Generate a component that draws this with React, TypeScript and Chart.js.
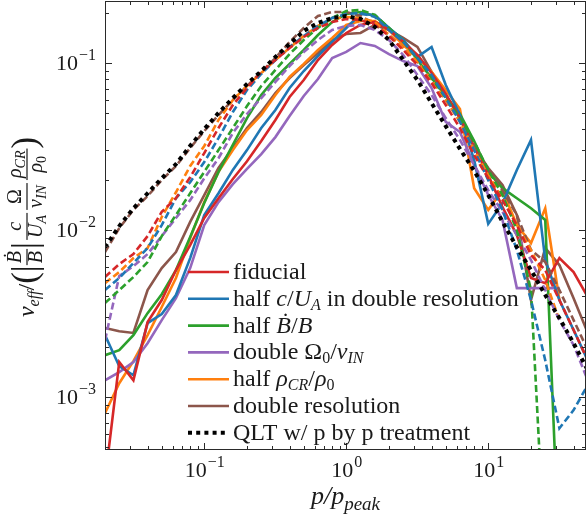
import React, { useEffect, useRef } from "react";
import { Chart, registerables } from "chart.js";

Chart.register(...registerables);

// ---------------- data ----------------
const P = [0.02, 0.0252, 0.0317, 0.0399, 0.0502, 0.0632, 0.0796, 0.1, 0.126, 0.159, 0.2, 0.252, 0.317, 0.399, 0.502, 0.632, 0.796, 1.0, 1.26, 1.59, 2.0, 2.52, 3.17, 3.99, 5.02, 6.32, 7.96, 10.0, 12.6, 15.9, 20.0, 25.2, 31.7, 39.9, 50.2];

const FID_S = [0.000318, 0.00162, 0.00126, 0.00281, 0.00381, 0.00576, 0.00813, 0.0118, 0.0155, 0.0202, 0.0258, 0.0341, 0.0456, 0.0626, 0.0791, 0.1042, 0.1282, 0.1512, 0.1689, 0.176, 0.1576, 0.1336, 0.1117, 0.0871, 0.0652, 0.0468, 0.0314, 0.0213, 0.0137, 0.00933, 0.00516, 0.00481, 0.00679, 0.0056, 0.00397];
const FID_D = [0.00523, 0.00625, 0.00718, 0.0092, 0.01284, 0.0155, 0.0207, 0.0289, 0.0408, 0.056, 0.0708, 0.0884, 0.1042, 0.123, 0.1431, 0.162, 0.176, 0.1834, 0.1809, 0.1689, 0.1451, 0.1196, 0.0973, 0.0759, 0.056, 0.0408, 0.0281, 0.0204, 0.0151, 0.0107, 0.00708, 0.00576, 0.00381, 0.00252, 0.00166];

const HALFC_S = [0.00235, 0.00153, 0.00135, 0.00277, 0.00314, 0.00408, 0.00679, 0.0123, 0.0166, 0.0229, 0.0301, 0.0408, 0.0523, 0.0708, 0.0895, 0.1101, 0.1336, 0.162, 0.1965, 0.1938, 0.162, 0.1373, 0.1087, 0.1247, 0.0738, 0.0488, 0.0262, 0.01088, 0.0145, 0.0229, 0.0346, 0.00661, 0.00381, 0.00252, 0.00166];
const HALFC_D = [0.00437, 0.00516, 0.00634, 0.0078, 0.0107, 0.0155, 0.01936, 0.0255, 0.0355, 0.0509, 0.0689, 0.0859, 0.1042, 0.1247, 0.1451, 0.1666, 0.186, 0.1965, 0.1992, 0.1886, 0.1576, 0.1336, 0.1071, 0.0848, 0.0617, 0.0444, 0.0301, 0.0199, 0.0132, 0.00759, 0.00381, 0.00166, 0.000651, 0.000835, 0.00118];

const HALFB_S = [0.00178, 0.00191, 0.00235, 0.00318, 0.00413, 0.00576, 0.00908, 0.0145, 0.0223, 0.0323, 0.0468, 0.0643, 0.0813, 0.0986, 0.1196, 0.1471, 0.176, 0.1965, 0.202, 0.1912, 0.162, 0.1373, 0.1042, 0.0813, 0.0634, 0.0495, 0.0341, 0.0223, 0.0178, 0.0155, 0.0135, 0.0115, 0.0001, null, null];
const HALFB_D = [0.00365, 0.00437, 0.00523, 0.00643, 0.0092, 0.0123, 0.0166, 0.0223, 0.0301, 0.0408, 0.0552, 0.0728, 0.0908, 0.1131, 0.1373, 0.162, 0.186, 0.2048, 0.2076, 0.1938, 0.162, 0.1336, 0.1071, 0.0813, 0.0617, 0.0468, 0.0337, 0.0229, 0.0162, 0.01, 0.00437, 0.0001, null, null, null];

const DOUBLEO_S = [0.00126, 0.00141, 0.00162, 0.0021, 0.00289, 0.00391, 0.00592, 0.0107, 0.0147, 0.0188, 0.0232, 0.0285, 0.036, 0.0481, 0.0634, 0.0802, 0.1071, 0.1164, 0.1317, 0.1264, 0.1131, 0.1027, 0.0959, 0.0708, 0.0444, 0.0386, 0.0245, 0.0162, 0.0115, 0.00449, 0.00449, 0.00449, 0.00449, null, null];
const DOUBLEO_D = [0.00219, 0.0053, 0.00608, 0.00718, 0.0092, 0.0118, 0.0151, 0.0204, 0.0269, 0.0381, 0.0495, 0.0617, 0.077, 0.0959, 0.1164, 0.1373, 0.1576, 0.1666, 0.1689, 0.1576, 0.1373, 0.1117, 0.0848, 0.0643, 0.0468, 0.0346, 0.0245, 0.0173, 0.01284, 0.00933, 0.00661, 0.00437, 0.00289, 0.00205, 0.00126];

const HALFRHO_S = [0.000801, 0.00121, 0.00164, 0.00235, 0.00346, 0.00516, 0.00895, 0.0147, 0.0223, 0.0301, 0.0397, 0.0488, 0.0643, 0.0825, 0.0986, 0.1196, 0.1412, 0.1689, 0.1784, 0.1784, 0.1576, 0.1282, 0.1087, 0.0884, 0.0689, 0.053, 0.0178, 0.0132, 0.0173, 0.0107, 0.00835, 0.0135, 0.00381, null, null];
const HALFRHO_D = [0.00481, 0.0056, 0.00679, 0.0078, 0.01197, 0.01683, 0.02416, 0.03185, 0.0456, 0.06, 0.0728, 0.0871, 0.1042, 0.123, 0.1451, 0.1666, 0.1834, 0.1886, 0.186, 0.176, 0.1471, 0.123, 0.1014, 0.0791, 0.06, 0.0444, 0.0301, 0.0213, 0.0155, 0.0107, 0.00759, 0.00502, 0.00289, null, null];

const DOUBLERES_S = [0.00259, 0.00248, 0.00242, 0.00437, 0.00592, 0.00738, 0.01119, 0.0162, 0.0235, 0.031, 0.0408, 0.0509, 0.0661, 0.0813, 0.0973, 0.1147, 0.1373, 0.1492, 0.1512, 0.1689, 0.1576, 0.1412, 0.1247, 0.0884, 0.0643, 0.0468, 0.0314, 0.0235, 0.0186, 0.0123, 0.00381, 0.0078, 0.00617, 0.00391, 0.00242];
const DOUBLERES_D = [0.00738, 0.01026, 0.0132, 0.01597, 0.0199, 0.02416, 0.031, 0.0391, 0.0488, 0.06, 0.0728, 0.0884, 0.1071, 0.1336, 0.162, 0.1912, 0.202, 0.202, 0.1912, 0.1712, 0.1471, 0.123, 0.1014, 0.0791, 0.06, 0.0456, 0.0323, 0.0229, 0.0173, 0.0123, 0.00759, 0.00643, 0.00437, 0.00289, 0.00191];

const QLT = [0.0079, 0.01055, 0.0135, 0.0166, 0.0204, 0.0248, 0.0319, 0.0402, 0.0502, 0.0617, 0.0748, 0.0895, 0.1087, 0.13, 0.1555, 0.1736, 0.186, 0.191, 0.1834, 0.1643, 0.1373, 0.1042, 0.0791, 0.0575, 0.0419, 0.0306, 0.0226, 0.0162, 0.0112, 0.0079, 0.00576, 0.00408, 0.00297, 0.0021, 0.00145];

const LABELS = ["fiducial", "half c/U_A in double resolution", "half Ḃ/B", "double Ω0/νIN", "half ρCR/ρ0", "double resolution", "QLT w/ p by p treatment"];
const COLORS = ["#d62728", "#1f77b4", "#2ca02c", "#9467bd", "#ff7f0e", "#8c564b"];
const SOLIDS = [FID_S, HALFC_S, HALFB_S, DOUBLEO_S, HALFRHO_S, DOUBLERES_S];
const DASHES = [FID_D, HALFC_D, HALFB_D, DOUBLEO_D, HALFRHO_D, DOUBLERES_D];

const X_MIN = 0.02, X_MAX = 48.8;
const Y_MIN = 4.82e-4, Y_MAX = 0.235;
const X_MAJOR = [0.1, 1, 10];
const X_MAJOR_EXP = ["−1", "0", "1"];
const Y_MAJOR = [0.001, 0.01, 0.1];
const Y_MAJOR_EXP = ["−3", "−2", "−1"];

// ---------------- rich text helpers ----------------
const SERIF = '"Liberation Serif", "DejaVu Serif", serif';
type TNode = { k: "t"; s: string; size: number; it?: boolean; dy?: number };
type FNode = { k: "f"; num: Node[]; den: Node[] };
type GNode = { k: "g"; w: number };
type Node = TNode | FNode | GNode;
const t = (s: string, size: number, it = false, dy = 0): TNode => ({ k: "t", s, size, it, dy });
const fr = (num: Node[], den: Node[]): FNode => ({ k: "f", num, den });
const g = (w: number): GNode => ({ k: "g", w });
const fontOf = (size: number, it?: boolean) => `${it ? "italic " : ""}${size}px ${SERIF}`;

function nodesWidth(ctx: CanvasRenderingContext2D, nodes: Node[]): number {
  let w = 0;
  for (const n of nodes) {
    if (n.k === "t") { ctx.font = fontOf(n.size, n.it); w += ctx.measureText(n.s).width; }
    else if (n.k === "g") w += n.w;
    else w += Math.max(nodesWidth(ctx, n.num), nodesWidth(ctx, n.den)) + 4;
  }
  return w;
}
type FracCfg = { axis: number; numGap: number; denGap: number };
function drawNodes(ctx: CanvasRenderingContext2D, nodes: Node[], x: number, y: number, fc: FracCfg): number {
  for (const n of nodes) {
    if (n.k === "t") {
      ctx.font = fontOf(n.size, n.it);
      ctx.fillText(n.s, x, y + (n.dy || 0));
      x += ctx.measureText(n.s).width;
    } else if (n.k === "g") x += n.w;
    else {
      const nw = nodesWidth(ctx, n.num), dw = nodesWidth(ctx, n.den);
      const w = Math.max(nw, dw) + 4;
      const ax = y - fc.axis;
      ctx.fillRect(x, ax - 0.6, w, 1.2);
      drawNodes(ctx, n.num, x + (w - nw) / 2, ax - fc.numGap, fc);
      drawNodes(ctx, n.den, x + (w - dw) / 2, ax + fc.denGap, fc);
      x += w;
    }
  }
  return x;
}

const LS = 24, LSUB = 16;
const LEGEND_TEXT: Node[][] = [
  [t("fiducial", LS)],
  [t("half ", LS), t("c", LS, true), t("/", LS), t("U", LS, true), t("A", LSUB, true, 4), t(" in double resolution", LS)],
  [t("half ", LS), t("Ḃ", LS, true), t("/", LS), t("B", LS, true)],
  [t("double ", LS), t("Ω", LS), t("0", LSUB, false, 4), t("/", LS), t("ν", LS, true), t("IN", LSUB, true, 4)],
  [t("half ", LS), t("ρ", LS, true), t("CR", LSUB, true, 4), t("/", LS), t("ρ", LS, true), t("0", LSUB, false, 4)],
  [t("double resolution", LS)],
  [t("QLT w/ p by p treatment", LS)],
];

const YS = 24, YF = 20, YSUB = 14, YP = 35;
const Y_TITLE: Node[] = [
  t("ν", YS, true), t("eff", 16, true, 5), t("/", YS), t("(", YP, false, 2), t("|", YP, false, 2),
  fr([t("Ḃ", YF, true)], [t("B", YF, true)]), t("|", YP, false, 2), g(2),
  fr([t("c", YF, true)], [t("U", YF, true), t("A", YSUB, true, 4)]), g(3),
  fr([t("Ω", YF)], [t("ν", YF, true), t("IN", YSUB, true, 4)]), g(3),
  fr([t("ρ", YF, true), t("CR", YSUB, true, 4)], [t("ρ", YF, true), t("0", YSUB, false, 4)]),
  t(")", YP, false, 2),
];
const X_TITLE: Node[] = [t("p/p", 26, true), t("peak", 19, true, 6)];

// ---------------- decoration plugin ----------------
const decor = {
  id: "decor",
  afterDraw(chart: any) {
    const ctx: CanvasRenderingContext2D = chart.ctx;
    const { left, right, top, bottom } = chart.chartArea;
    const xs = chart.scales.x, ys = chart.scales.y;
    ctx.save();
    ctx.fillStyle = "#1a1a1a";
    ctx.strokeStyle = "#2a2a2a";
    ctx.lineWidth = 1;
    ctx.strokeRect(left + 0.5, top + 0.5, right - left - 1, bottom - top - 1);
    const tick = (isX: boolean, v: number, len: number) => {
      if (isX) {
        const x = Math.round(xs.getPixelForValue(v)) + 0.5;
        if (x < left || x > right) return;
        ctx.beginPath(); ctx.moveTo(x, bottom); ctx.lineTo(x, bottom - len);
        ctx.moveTo(x, top); ctx.lineTo(x, top + len); ctx.stroke();
      } else {
        const y = Math.round(ys.getPixelForValue(v)) + 0.5;
        if (y < top || y > bottom) return;
        ctx.beginPath(); ctx.moveTo(left, y); ctx.lineTo(left + len, y);
        ctx.moveTo(right, y); ctx.lineTo(right - len, y); ctx.stroke();
      }
    };
    for (let e = -2; e <= 1; e++) for (let m = 1; m <= 9; m++) {
      const v = m * Math.pow(10, e);
      if (v < X_MIN * 0.999 || v > X_MAX) continue;
      tick(true, v, m === 1 ? 7 : 4);
    }
    for (let e = -4; e <= -1; e++) for (let m = 1; m <= 9; m++) {
      const v = m * Math.pow(10, e);
      if (v < Y_MIN || v > Y_MAX) continue;
      tick(false, v, m === 1 ? 7 : 4);
    }
    ctx.textBaseline = "alphabetic";
    ctx.textAlign = "left";
    const MS = 22, SS = 16;
    X_MAJOR.forEach((v, i) => {
      const x = xs.getPixelForValue(v);
      ctx.font = fontOf(MS); const w1 = ctx.measureText("10").width;
      ctx.font = fontOf(SS); const w2 = ctx.measureText(X_MAJOR_EXP[i]).width;
      const x0 = x - (w1 + w2) / 2;
      ctx.font = fontOf(MS); ctx.fillText("10", x0, 477);
      ctx.font = fontOf(SS); ctx.fillText(X_MAJOR_EXP[i], x0 + w1 + 1, 467);
    });
    Y_MAJOR.forEach((v, i) => {
      const y = ys.getPixelForValue(v);
      ctx.font = fontOf(MS); const w1 = ctx.measureText("10").width;
      ctx.font = fontOf(SS); const w2 = ctx.measureText(Y_MAJOR_EXP[i]).width;
      const x0 = 96 - w1 - w2 - 1;
      ctx.font = fontOf(MS); ctx.fillText("10", x0, y + 7);
      ctx.font = fontOf(SS); ctx.fillText(Y_MAJOR_EXP[i], x0 + w1 + 1, y - 3);
    });
    const fc: FracCfg = { axis: 7, numGap: 6, denGap: 15 };
    const xw = nodesWidth(ctx, X_TITLE);
    drawNodes(ctx, X_TITLE, (left + right) / 2 - xw / 2, 504, fc);
    ctx.save();
    ctx.translate(0, 227);
    ctx.rotate(-Math.PI / 2);
    const yw = nodesWidth(ctx, Y_TITLE);
    drawNodes(ctx, Y_TITLE, -yw / 2, 34, fc);
    ctx.restore();
    const y0 = 272, dy = 26.8;
    LEGEND_TEXT.forEach((row, i) => {
      const y = y0 + i * dy;
      ctx.save();
      ctx.beginPath();
      if (i < 6) {
        ctx.strokeStyle = COLORS[i]; ctx.lineWidth = 2.6; ctx.setLineDash([]);
      } else {
        ctx.strokeStyle = "#000"; ctx.lineWidth = 4; ctx.setLineDash([4, 4.2]);
      }
      ctx.moveTo(188, y); ctx.lineTo(229, y); ctx.stroke();
      ctx.restore();
      drawNodes(ctx, row, 233, y + 7, fc);
    });
    ctx.restore();
  },
};

const pts = (arr: (number | null)[]) => P.map((p, i) => ({ x: p, y: arr[i] }));

export default function App() {
  const ref = useRef<HTMLCanvasElement>(null);
  useEffect(() => {
    const datasets: any[] = [];
    datasets.push({
      label: LABELS[6], data: pts(QLT), borderColor: "#000", borderWidth: 4,
      borderDash: [4, 4.2], borderCapStyle: "butt", pointRadius: 0, order: 0, clip: 0,
    });
    DASHES.forEach((arr, i) => datasets.push({
      label: LABELS[i] + " (dashed)", data: pts(arr), borderColor: COLORS[i], borderWidth: 2.6,
      borderDash: [7, 3.5], pointRadius: 0, order: 1, clip: 0,
    }));
    SOLIDS.forEach((arr, i) => datasets.push({
      label: LABELS[i], data: pts(arr), borderColor: COLORS[i], borderWidth: 2.6,
      pointRadius: 0, order: 2, clip: 0,
    }));
    const chart = new Chart(ref.current!, {
      type: "line",
      data: { datasets },
      options: {
        animation: false,
        responsive: false,
        devicePixelRatio: 1,
        layout: { padding: { left: 105, right: 1, top: 1, bottom: 79 } },
        elements: { line: { tension: 0, borderJoinStyle: "miter" } },
        plugins: { legend: { display: false }, tooltip: { enabled: false } },
        scales: {
          x: { type: "logarithmic", min: X_MIN, max: X_MAX, display: false },
          y: { type: "logarithmic", min: Y_MIN, max: Y_MAX, display: false },
        },
      } as any,
      plugins: [decor],
    });
    return () => chart.destroy();
  }, []);
  return (
    <div style={{ position: "fixed", left: 0, top: 0, width: 587, height: 529, background: "#fff" }}>
      <canvas ref={ref} width={587} height={529} style={{ display: "block", width: 587, height: 529 }} />
    </div>
  );
}
